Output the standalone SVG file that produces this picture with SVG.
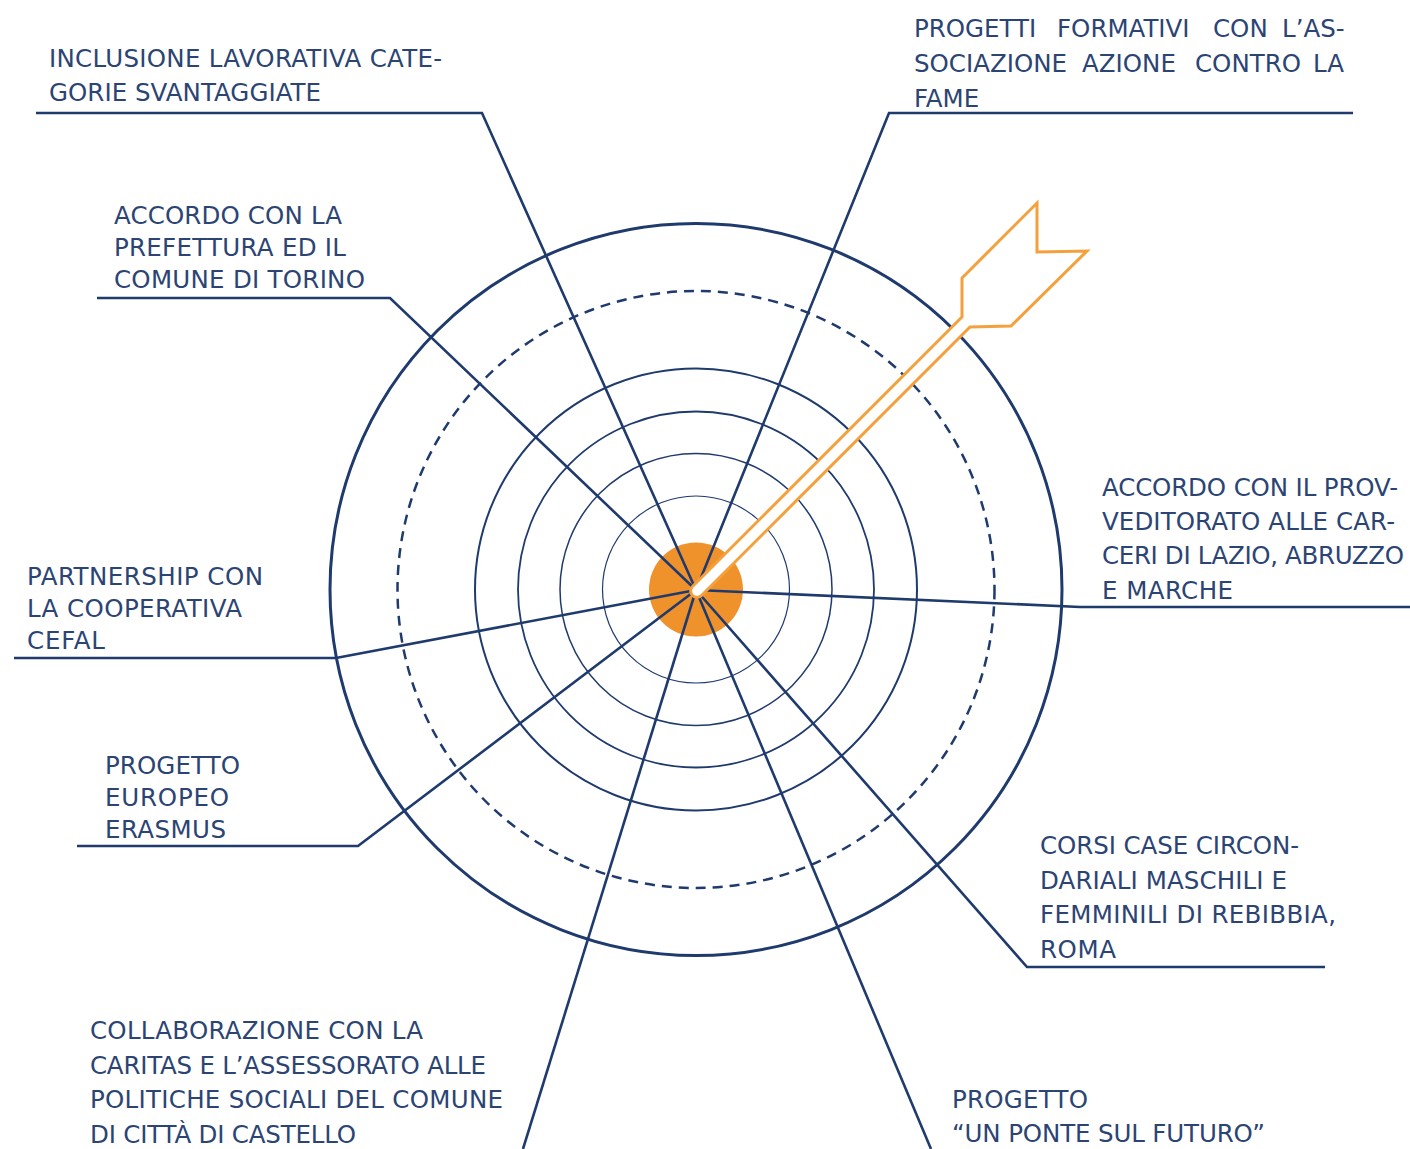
<svg xmlns="http://www.w3.org/2000/svg" width="1410" height="1149" viewBox="0 0 1410 1149">
<style>
.t{font-family:"DejaVu Sans","Liberation Sans",sans-serif;font-size:24.5px;fill:#2b4473;}
.ring{fill:none;stroke:#1f3a6d;}
.c{fill:none;stroke:#1f3a6d;stroke-width:2.6;stroke-linejoin:miter;}
</style>
<rect width="1410" height="1149" fill="#ffffff"/>
<g id="target">
<circle class="ring" cx="696" cy="589.5" r="366" stroke-width="3"/>
<circle class="ring" cx="696" cy="589.5" r="298.5" stroke-width="2.5" stroke-dasharray="10 7"/>
<circle class="ring" cx="696" cy="589.5" r="221" stroke-width="2"/>
<circle class="ring" cx="696" cy="589.5" r="178" stroke-width="1.8"/>
<circle class="ring" cx="696" cy="589.5" r="136" stroke-width="1.5"/>
<circle class="ring" cx="696" cy="589.5" r="93.5" stroke-width="1.2"/>
<circle cx="696" cy="589.5" r="47" fill="#f0922c"/>
</g>
<g id="connectors">
<polyline class="c" points="36,113 482,113 696,590"/>
<polyline class="c" points="1353,113 889,113 696,590"/>
<polyline class="c" points="97,298 390,298 696,590"/>
<polyline class="c" points="1410,607 1080,607 696,590"/>
<polyline class="c" points="14,658 336,658 696,590"/>
<polyline class="c" points="77,846 358,846 696,590"/>
<polyline class="c" points="523,1149 696,590"/>
<polyline class="c" points="931,1149 696,590"/>
<polyline class="c" points="1325,967 1027,967 696,590"/>
</g>
<g id="arrow">
<path d="M692.5 586.5 L962 317 L962 278 L1037 203 L1037 252 L1087 251 L1011 326 L970 327 L701.5 595.5 A6.36 6.36 0 0 1 692.5 586.5 Z" fill="#ffffff" stroke="#f4a03c" stroke-width="3" stroke-linejoin="miter"/>
</g>
<g id="n1">
<text class="t" x="49" y="66.5" textLength="393" lengthAdjust="spacing">INCLUSIONE LAVORATIVA CATE-</text>
<text class="t" x="49" y="100.5" textLength="272" lengthAdjust="spacing">GORIE SVANTAGGIATE</text>
</g>
<g id="n2">
<text class="t" y="37"><tspan x="914">PROGETTI</tspan><tspan x="1057">FORMATIVI</tspan><tspan x="1213">CON</tspan><tspan x="1282">L’AS-</tspan></text>
<text class="t" y="72"><tspan x="914">SOCIAZIONE</tspan><tspan x="1082">AZIONE</tspan><tspan x="1195">CONTRO</tspan><tspan x="1313">LA</tspan></text>
<text class="t" x="914" y="107">FAME</text>
</g>
<g id="n3">
<text class="t" x="114" y="223.5" textLength="228" lengthAdjust="spacing">ACCORDO CON LA</text>
<text class="t" x="114" y="255.5" textLength="232" lengthAdjust="spacing">PREFETTURA ED IL</text>
<text class="t" x="114" y="287.5" textLength="251" lengthAdjust="spacing">COMUNE DI TORINO</text>
</g>
<g id="n4">
<text class="t" x="1102" y="495.5" textLength="296" lengthAdjust="spacing">ACCORDO CON IL PROV-</text>
<text class="t" x="1102" y="529.5" textLength="293" lengthAdjust="spacing">VEDITORATO ALLE CAR-</text>
<text class="t" x="1102" y="564" textLength="302" lengthAdjust="spacing">CERI DI LAZIO, ABRUZZO</text>
<text class="t" x="1102" y="598.5" textLength="131" lengthAdjust="spacing">E MARCHE</text>
</g>
<g id="n5">
<text class="t" x="27" y="584.5" textLength="236" lengthAdjust="spacing">PARTNERSHIP CON</text>
<text class="t" x="27" y="616.5" textLength="215" lengthAdjust="spacing">LA COOPERATIVA</text>
<text class="t" x="27" y="648.5" textLength="78" lengthAdjust="spacing">CEFAL</text>
</g>
<g id="n6">
<text class="t" x="105" y="773.5" textLength="135" lengthAdjust="spacing">PROGETTO</text>
<text class="t" x="105" y="805.5" textLength="124" lengthAdjust="spacing">EUROPEO</text>
<text class="t" x="105" y="837.5" textLength="121" lengthAdjust="spacing">ERASMUS</text>
</g>
<g id="n7">
<text class="t" x="90" y="1039" textLength="333" lengthAdjust="spacing">COLLABORAZIONE CON LA</text>
<text class="t" x="90" y="1073.5" textLength="396" lengthAdjust="spacing">CARITAS E L’ASSESSORATO ALLE</text>
<text class="t" x="90" y="1108" textLength="413" lengthAdjust="spacing">POLITICHE SOCIALI DEL COMUNE</text>
<text class="t" x="90" y="1142.5" textLength="266" lengthAdjust="spacing">DI CITTÀ DI CASTELLO</text>
</g>
<g id="n8">
<text class="t" x="1040" y="854" textLength="259" lengthAdjust="spacing">CORSI CASE CIRCON-</text>
<text class="t" x="1040" y="888.5" textLength="247" lengthAdjust="spacing">DARIALI MASCHILI E</text>
<text class="t" x="1040" y="923" textLength="296" lengthAdjust="spacing">FEMMINILI DI REBIBBIA,</text>
<text class="t" x="1040" y="957.5" textLength="76" lengthAdjust="spacing">ROMA</text>
</g>
<g id="n9">
<text class="t" x="952" y="1108" textLength="136" lengthAdjust="spacing">PROGETTO</text>
<text class="t" x="952" y="1142" textLength="313" lengthAdjust="spacing">“UN PONTE SUL FUTURO”</text>
</g>
</svg>
